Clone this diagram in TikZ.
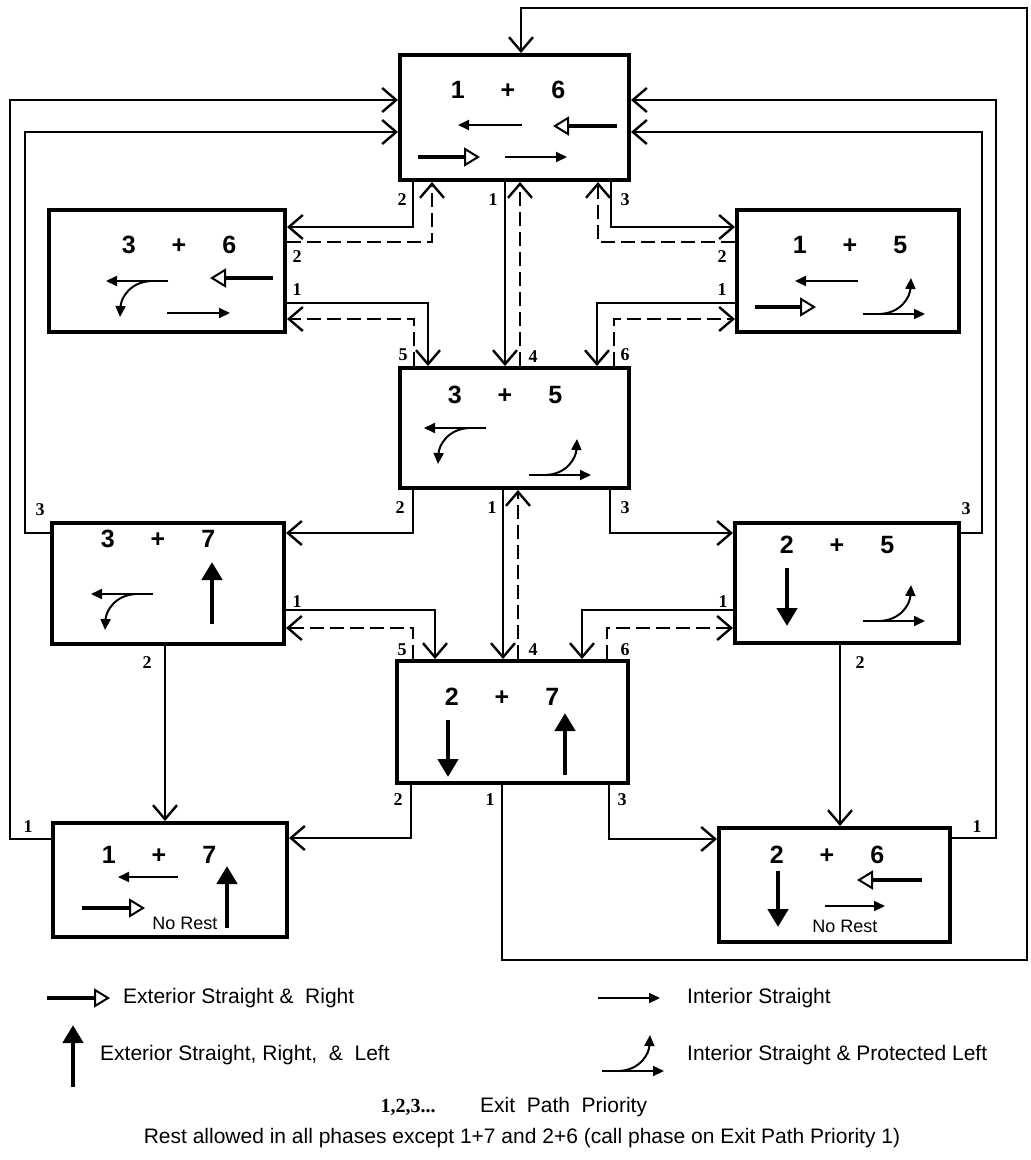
\documentclass[tikz,border=0pt]{standalone}
\usepackage{fontspec}
\setmainfont{Liberation Serif}
\setsansfont{Liberation Sans}
\usepackage{tikz}
\usetikzlibrary{arrows.meta,calc}
\newcommand{\phasepair}[2]{#1\hspace{36pt}+\hspace{36pt}#2}
\tikzset{
  intpl/.pic={
    \draw[intst] (0,0) -- (62,0);
    \draw[intst] (17,0) .. controls (38,1) and (47,17) .. (48,36);
  }
}

\begin{document}
\begin{tikzpicture}[
      x=1pt, y=1pt,
      phase/.style={draw, line width=4pt, inner sep=0pt,
                    minimum width=230pt, minimum height=122pt},
      pname/.style={font=\fontsize{25}{30}\selectfont\sffamily\bfseries, inner sep=0pt},
      prio/.style={font=\fontsize{18}{20}\selectfont\rmfamily\bfseries, inner sep=0pt},
      lgtext/.style={font=\fontsize{21}{25}\selectfont\sffamily, anchor=west, inner sep=0pt},
      norest/.style={font=\fontsize{18}{20}\selectfont\sffamily, inner sep=0pt},
      flow/.style={line width=1.7pt, -{Straight Barb[length=14pt, width=24pt, line width=2.4pt]}},
      back/.style={flow, dash pattern=on 14pt off 6pt},
      extsr/.style={line width=4pt, -{Triangle[open, length=16pt, width=19pt, line width=2pt]}},
      extsrl/.style={line width=4.5pt, -{Triangle[length=18pt, width=20pt]}},
      intst/.style={line width=2pt, -{Triangle[length=11pt, width=10pt]}},
  ]
  \useasboundingbox (0,0) rectangle (1031,-1160);

  % Phase boxes
  \node[phase, minimum width=229pt, minimum height=125pt] (b16) at (514.5,-117.5) {};
  \node[phase, minimum width=236pt] (b36) at (167,-271) {};
  \node[phase, minimum width=222pt] (b15) at (848,-271) {};
  \node[phase, minimum width=229pt, minimum height=120pt] (b35) at (514.5,-428) {};
  \node[phase, minimum width=232pt, minimum height=121pt] (b37) at (168,-583.5) {};
  \node[phase, minimum width=224pt, minimum height=120pt] (b25) at (847,-583) {};
  \node[phase, minimum width=231pt] (b27) at (512.5,-722) {};
  \node[phase, minimum width=234pt, minimum height=114pt] (b17) at (170,-880) {};
  \node[phase, minimum width=231pt, minimum height=114pt] (b26) at (834.5,-885) {};

  % Phase names
  \node[pname] (n16) at (508,-90)  {\phasepair{1}{6}};
  \node[pname] (n36) at (179,-245) {\phasepair{3}{6}};
  \node[pname] (n15) at (850,-245) {\phasepair{1}{5}};
  \node[pname] (n35) at (505,-395) {\phasepair{3}{5}};
  \node[pname] (n37) at (158,-539) {\phasepair{3}{7}};
  \node[pname] (n25) at (837,-545) {\phasepair{2}{5}};
  \node[pname] (n27) at (502,-697) {\phasepair{2}{7}};
  \node[pname] (n17) at (159,-855) {\phasepair{1}{7}};
  \node[pname] (n26) at (827,-855) {\phasepair{2}{6}};

  % Movements inside the boxes
  \draw[intst] (522,-125) -- (458,-125);
  \draw[extsr] (617,-126) -- (553,-126);
  \draw[extsr] (418,-157) -- (480,-157);
  \draw[intst] (505,-157) -- (567,-157);

  \pic[rotate=180] at (168,-281) {intpl};
  \draw[extsr] (273,-278) -- (210,-278);
  \draw[intst] (167,-313) -- (230,-313);

  \draw[intst] (858,-281) -- (795,-281);
  \draw[extsr] (755,-307) -- (816,-307);
  \pic at (863,-314) {intpl};

  \pic[rotate=180] at (486,-428) {intpl};
  \pic at (529,-475) {intpl};

  \pic[rotate=180] at (153,-594) {intpl};
  \draw[extsrl] (212,-624) -- (212,-562);

  \draw[extsrl] (787,-568) -- (787,-626);
  \pic at (863,-621) {intpl};

  \draw[extsrl] (448,-720) -- (448,-777);
  \draw[extsrl] (565,-775) -- (565,-713);

  \draw[intst] (178,-877) -- (118,-877);
  \draw[extsr] (82,-908) -- (145,-908);
  \draw[extsrl] (227,-928) -- (227,-866);
  \node[norest] (nr17) at (185,-923) {No Rest};

  \draw[extsrl] (778,-871) -- (778,-927);
  \draw[extsr] (922,-880) -- (857,-880);
  \draw[intst] (825,-906) -- (885,-906);
  \node[norest] (nr26) at (845,-926) {No Rest};

  % Exits of 1+6
  \draw[flow] (b16.south -| 413,0) node[prio] at (402,-200) {2} |- (b36.east |- 0,-227);
  \draw[flow] (b16.south -| 505,0) node[prio] at (493,-200) {1} -- (b35.north -| 505,0);
  \draw[flow] (b16.south -| 611,0) node[prio] at (625,-200) {3} |- (b15.west |- 0,-227);

  % Exits of 3+6 and 1+5
  \draw[back] (b36.east |- 0,-242) node[prio] at (297,-257) {2} -| (b16.south -| 432,0);
  \draw[flow] (b36.east |- 0,-303) node[prio] at (297,-290) {1} -| (b35.north -| 428,0);
  \draw[back] (b15.west |- 0,-242) node[prio] at (722,-257) {2} -| (b16.south -| 598,0);
  \draw[flow] (b15.west |- 0,-303) node[prio] at (722,-290) {1} -| (b35.north -| 597,0);

  % Exits of 3+5
  \draw[back] (b35.north -| 414,0) node[prio] at (403,-355) {5} |- (b36.east |- 0,-319);
  \draw[back] (b35.north -| 520,0) node[prio] at (533,-357) {4} -- (b16.south -| 520,0);
  \draw[back] (b35.north -| 614,0) node[prio] at (625,-355) {6} |- (b15.west |- 0,-319);
  \draw[flow] (b35.south -| 413,0) node[prio] at (400,-508) {2} |- (b37.east |- 0,-533);
  \draw[flow] (b35.south -| 503,0) node[prio] at (492,-508) {1} -- (b27.north -| 503,0);
  \draw[flow] (b35.south -| 610,0) node[prio] at (625,-508) {3} |- (b25.west |- 0,-533);

  % Exits of 3+7 and 2+5
  \draw[flow] (b37.east |- 0,-610) node[prio] at (297,-602) {1} -| (b27.north -| 435,0);
  \draw[flow] (b25.west |- 0,-610) node[prio] at (723,-602) {1} -| (b27.north -| 582,0);
  \draw[flow] (b37.south -| 165,0) node[prio] at (147,-663) {2} -- (b17.north -| 165,0);
  \draw[flow] (b25.south -| 840,0) node[prio] at (860,-663) {2} -- (b26.north -| 840,0);
  \draw[flow] (b37.west |- 0,-533) node[prio] at (40,-510) {3} -| (25,-132) -- (b16.west |- 0,-132);
  \draw[flow] (b25.east |- 0,-533) node[prio] at (966,-509) {3} -| (982,-132) -- (b16.east |- 0,-132);

  % Exits of 2+7
  \draw[back] (b27.north -| 413,0) node[prio] at (402,-650) {5} |- (b37.east |- 0,-628);
  \draw[back] (b27.north -| 518,0) node[prio] at (533,-650) {4} -- (b35.south -| 518,0);
  \draw[back] (b27.north -| 607,0) node[prio] at (625,-650) {6} |- (b25.west |- 0,-628);
  \draw[flow] (b27.south -| 411,0) node[prio] at (398,-800) {2} |- (b17.east |- 0,-838);
  \draw[flow] (b27.south -| 609,0) node[prio] at (622,-800) {3} |- (b26.west |- 0,-839);
  \draw[flow] (b27.south -| 502,0) node[prio] at (490,-800) {1}
    |- (1027,-960) coordinate (loop) |- (521,-8) -- (b16.north -| 521,0);

  % Exits of 1+7 and 2+6, back to 1+6
  \draw[flow] (b17.west |- 0,-839) node[prio] at (28,-827) {1} -| (10,-100) -- (b16.west |- 0,-100);
  \draw[flow] (b26.east |- 0,-838) node[prio] at (977,-827) {1} -| (996,-100) -- (b16.east |- 0,-100);

  % Legend
  \draw[extsr] (47,-998) -- (110,-998);
  \node[lgtext] (lg1) at (123,-998) {Exterior Straight \&~~Right};
  \draw[extsrl] (73,-1087) -- (73,-1025);
  \node[lgtext] (lg2) at (100,-1055) {Exterior Straight, Right,~~\&~~Left};
  \draw[intst] (598,-998) -- (660,-998);
  \node[lgtext] (lg3) at (687,-998) {Interior Straight};
  \pic at (602,-1071) {intpl};
  \node[lgtext] (lg4) at (687,-1055) {Interior Straight \& Protected Left};
  \node[prio, font=\fontsize{20}{22}\selectfont\rmfamily\bfseries] (lg5) at (408,-1107) {1,2,3...};
  \node[lgtext] (lg6) at (480,-1107) {Exit~~Path~~Priority};
  \node[lgtext, anchor=center] (lg7) at (522,-1138)
    {Rest allowed in all phases except 1+7 and 2+6 (call phase on Exit Path Priority 1)};

\end{tikzpicture}
\end{document}
